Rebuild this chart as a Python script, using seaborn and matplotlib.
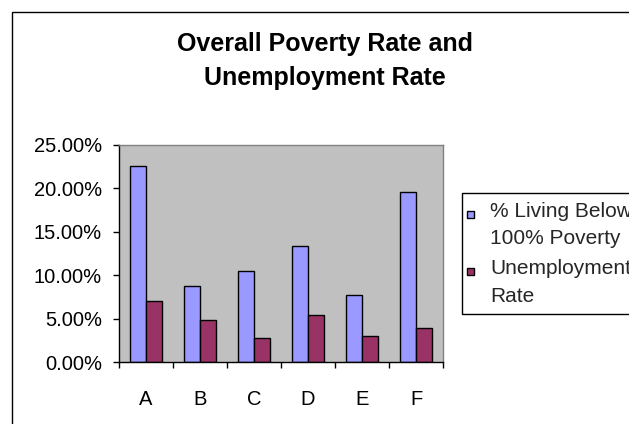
import matplotlib
matplotlib.use("Agg")
import matplotlib.pyplot as plt
from matplotlib.patches import Rectangle
from matplotlib.legend_handler import HandlerPatch
from matplotlib.ticker import FuncFormatter, FixedLocator
import seaborn as sns
import pandas as pd

# Chart data
categories = ["A", "B", "C", "D", "E", "F"]
poverty_rate = [0.226, 0.088, 0.105, 0.134, 0.077, 0.196]
unemployment_rate = [0.070, 0.048, 0.028, 0.054, 0.030, 0.039]
series_labels = ["% Living Below\n100% Poverty", "Unemployment\nRate"]
series_colors = ["#9999FF", "#993366"]
y_ticks = [0.0, 0.05, 0.10, 0.15, 0.20, 0.25]
title = "Overall Poverty Rate and\nUnemployment Rate"

df = pd.DataFrame({
    "category": categories * 2,
    "series": [series_labels[0]] * len(categories) + [series_labels[1]] * len(categories),
    "value": poverty_rate + unemployment_rate,
})

sns.set_theme(style="white")
plt.rcParams["font.family"] = ["Liberation Sans", "DejaVu Sans"]

W, H = 629, 424
fig = plt.figure(figsize=(W / 100, H / 100), dpi=100)
fig.patch.set_facecolor("white")

# plot area in pixel coordinates
ax = fig.add_axes([119 / W, 1 - 362 / H, 324 / W, 217 / H])
sns.barplot(
    data=df, x="category", y="value", hue="series",
    palette=series_colors, saturation=1, width=0.6, errorbar=None,
    edgecolor="black", linewidth=1.0, ax=ax,
)
ax.set_facecolor("#C0C0C0")
ax.set_xlim(-0.5, len(categories) - 0.5)
ax.set_ylim(y_ticks[0], y_ticks[-1])
ax.set_xlabel("")
ax.set_ylabel("")

for side in ("top", "right"):
    ax.spines[side].set_color("#808080")
    ax.spines[side].set_linewidth(1.0)
for side in ("left", "bottom"):
    ax.spines[side].set_color("black")
    ax.spines[side].set_linewidth(1.0)
    ax.spines[side].set_visible(True)

# y axis: percentage ticks
ax.yaxis.set_major_locator(FixedLocator(y_ticks))
ax.yaxis.set_major_formatter(FuncFormatter(lambda v, _: f"{v * 100:.2f}%"))
ax.tick_params(axis="y", which="major", left=True, length=4.3, width=1.0,
               pad=8, labelsize=14.5, colors="black", direction="out")

# x axis: tick marks between categories, labels centred on groups
n = len(categories)
ax.xaxis.set_major_locator(FixedLocator([i - 0.5 for i in range(n + 1)]))
ax.xaxis.set_minor_locator(FixedLocator(list(range(n))))
ax.set_xticklabels([""] * (n + 1))
ax.set_xticklabels(categories, minor=True)
ax.tick_params(axis="x", which="major", bottom=True, length=4.3, width=1.0,
               direction="out", color="black")
ax.tick_params(axis="x", which="minor", bottom=True, length=0, pad=20,
               labelsize=14.5, labelcolor="black")

# title (baseline given for the last line)
fig.text(325 / W, 1 - 85 / H, title, ha="center", va="baseline",
         fontsize=18, fontweight="bold", linespacing=1.52, color="black")

# legend with small square keys aligned to the first text line
LINE_PT = 27.5 * 0.72


def square_key(legend, orig_handle, xdescent, ydescent, width, height, fontsize):
    return Rectangle((-2.2, LINE_PT / 2 + 0.8), 5.0, 5.0)


handles, labels = ax.get_legend_handles_labels()
if ax.get_legend() is not None:
    ax.get_legend().remove()
leg = fig.legend(
    handles, labels, loc="upper left", mode="expand",
    bbox_to_anchor=(461.7 / W, 0, 300 / W, 1 - 193 / H),
    bbox_transform=fig.transFigure,
    borderaxespad=0, frameon=True, fancybox=False, framealpha=1,
    edgecolor="black", facecolor="white", fontsize=15,
    borderpad=0.42, handlelength=0.1, handleheight=0.7, handletextpad=0.86,
    labelspacing=0.5,
    handler_map={Rectangle: HandlerPatch(patch_func=square_key)},
)
leg.get_frame().set_linewidth(1.0)
for t in leg.get_texts():
    t.set_linespacing(1.58)
for h, c in zip(leg.legend_handles, series_colors):
    h.set_facecolor(c)
    h.set_edgecolor("black")
    h.set_linewidth(1.0)

# outer chart border
fig.add_artist(Rectangle((12 / W, -0.1), 1.2, (1 - 12 / H) + 0.1,
                         transform=fig.transFigure, fill=False,
                         edgecolor="black", linewidth=1.0, clip_on=False))

fig.savefig("out.png", dpi=100)
